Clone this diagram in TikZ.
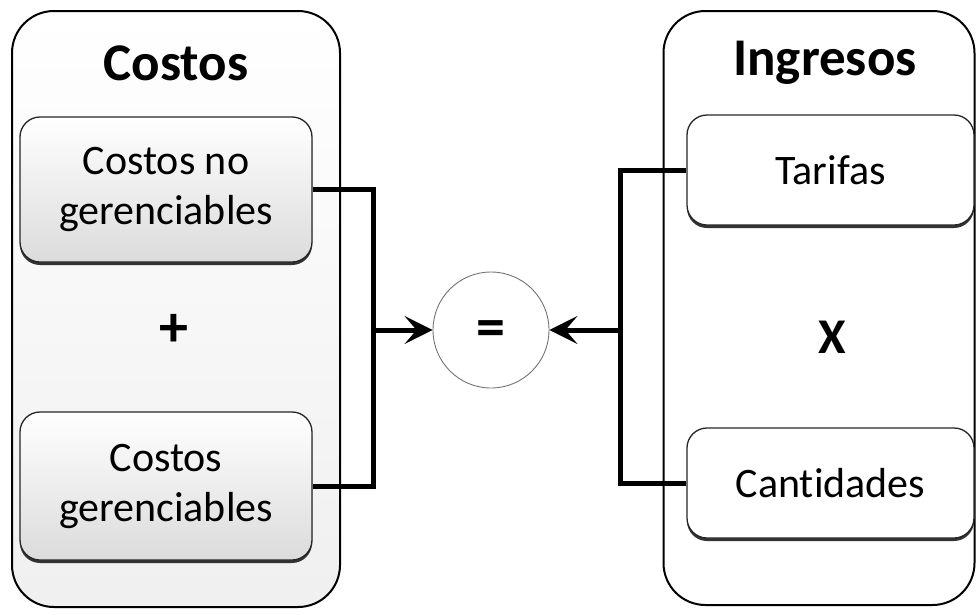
\documentclass[tikz,border=0pt]{standalone}
\usepackage{fontspec}
\setmainfont{Carlito}[Ligatures=NoCommon]
\usetikzlibrary{arrows.meta,shadows}
\begin{document}
\begin{tikzpicture}[x=1pt,y=-1pt,
  outerbox/.style={draw=black, line width=2pt, rounded corners=42pt, inner sep=0pt},
  titletext/.style={font=\fontsize{53}{60}\selectfont\bfseries, inner sep=0pt},
  innerbase/.style={draw=black!85, line width=1.3pt, rounded corners=20pt, inner sep=0pt,
    align=center, font=\fontsize{42}{50}\selectfont,
    drop shadow={shadow xshift=0pt, shadow yshift=-3pt, fill=black!80, opacity=1}},
  innerL/.style={innerbase, top color=white, middle color=white, bottom color=black!14},
  innerR/.style={innerbase, fill=white},
  optext/.style={font=\fontsize{58}{60}\selectfont\bfseries, inner sep=0pt},
  conn/.style={draw=black, line width=5pt},
  tip/.style={-{Stealth[length=28pt,width=28pt,inset=12pt]}}
]
\useasboundingbox (0,0) rectangle (978,614);

% outer containers
\node[outerbox, top color=white, middle color=white, bottom color=black!6,
      minimum width=328pt, minimum height=596pt] (L) at (176,309) {};
\node[outerbox, minimum width=311pt, minimum height=594pt] (R) at (819,308) {};

% titles
\node[titletext] (tc) at (176,63) {Costos};
\node[titletext] (ti) at (825,63) {Ingresos};

% inner boxes
\node[innerL, minimum width=292pt, minimum height=145pt] (cn) at (166,189.5) {Costos no\\gerenciables};
\node[innerL, minimum width=292pt, minimum height=148pt] (cg) at (166,486) {Costos\\gerenciables};
\node[innerR, minimum width=287pt, minimum height=110pt] (ta) at (830.5,170) {Tarifas};
\node[innerR, minimum width=287pt, minimum height=110pt] (ca) at (830.5,483) {Cantidades};

% operators
\node[optext] (plus) at (174,330) {+};
\node[optext, font=\fontsize{50}{60}\selectfont\bfseries] (times) at (832,337) {X};
\node[circle, draw=black!55, line width=0.9pt, minimum size=116pt, inner sep=0pt] (eq) at (491,330) {};
\node[optext] (eqsign) at (491,334) {=};

% connectors
\coordinate (jl) at (373,330);
\coordinate (jr) at (620,330);
\draw[conn] (cn.east) -| (jl) |- (cg.east);
\draw[conn] (ta.west) -| (jr) |- (ca.west);
\draw[conn, tip] (jl) -- (eq.west);
\draw[conn, tip] (jr) -- (eq.east);
\end{tikzpicture}
\end{document}
